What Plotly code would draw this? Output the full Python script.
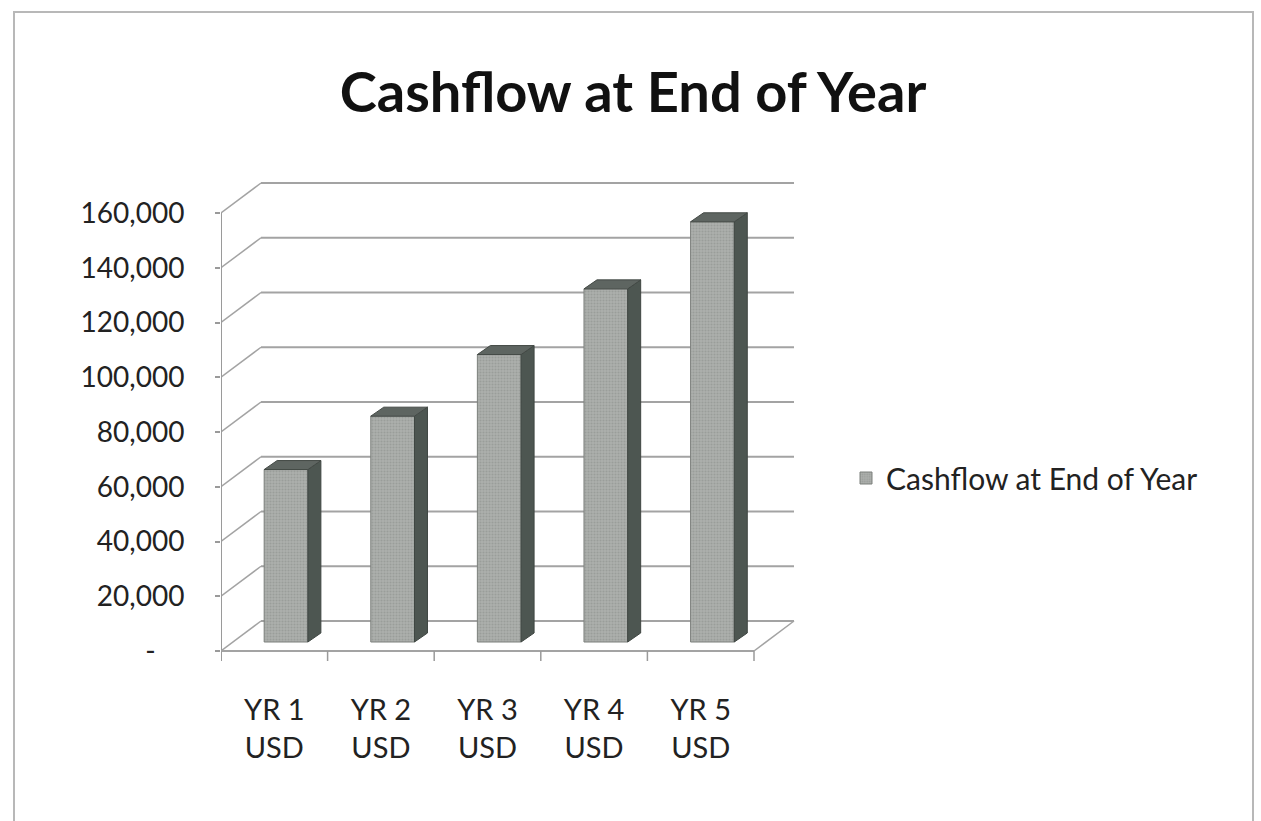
import plotly.graph_objects as go

# ---- data ----
categories = ["YR 1<br>USD", "YR 2<br>USD", "YR 3<br>USD", "YR 4<br>USD", "YR 5<br>USD"]
values = [63000, 82500, 105000, 129000, 153500]
tick_vals = [0, 20000, 40000, 60000, 80000, 100000, 120000, 140000, 160000]
tick_text = ["-\u00a0\u00a0\u00a0\u00a0", "20,000", "40,000", "60,000", "80,000", "100,000", "120,000", "140,000", "160,000"]
series_name = "Cashflow at End of Year"
title_text = "Cashflow at End of Year"

# ---- layout geometry (pixels) ----
W, H = 1261, 821
x0p, y0p = 221, 651          # front axis origin
slot_px = 106.6              # category slot width
ppk = (651 - 213) / 160.0    # pixels per 1,000
dom_left, dom_right = x0p, 801
dom_top, dom_bot = 170, 680

x_range = [0, (dom_right - dom_left) / slot_px]
y_range = [-(dom_bot - y0p) / ppk * 1000, (y0p - dom_top) / ppk * 1000]

DX = 40 / slot_px            # depth offset (x data units)
DY = 30 / ppk * 1000         # depth offset (y data units)
bar_base = 9 / ppk * 1000
bar_off = 0.61
bar_w = 0.41
ddx = 13 / slot_px
ddy = 9 / ppk * 1000
tick_down = 10 / ppk * 1000
n = len(categories)

grid_col = "#a3a3a3"
shapes = []
for v in tick_vals:
    shapes.append(dict(type="line", xref="x", yref="y", x0=DX, y0=v + DY, x1=n + DX, y1=v + DY,
                       line=dict(color=grid_col, width=2), layer="below"))
    shapes.append(dict(type="line", xref="x", yref="y", x0=0, y0=v, x1=DX, y1=v + DY,
                       line=dict(color=grid_col, width=1.5), layer="below"))
# front axis, floor
shapes.append(dict(type="line", xref="x", yref="y", x0=0, y0=-tick_down, x1=0, y1=tick_vals[-1],
                   line=dict(color="#9a9a9a", width=2), layer="below"))
shapes.append(dict(type="line", xref="x", yref="y", x0=0, y0=0, x1=n, y1=0,
                   line=dict(color=grid_col, width=2), layer="below"))
shapes.append(dict(type="line", xref="x", yref="y", x0=n, y0=0, x1=n + DX, y1=DY,
                   line=dict(color=grid_col, width=1.5), layer="below"))
for i in range(n + 1):
    shapes.append(dict(type="line", xref="x", yref="y", x0=i, y0=0, x1=i, y1=-tick_down,
                       line=dict(color="#9a9a9a", width=1.5), layer="below"))
# outer border
shapes.append(dict(type="rect", xref="paper", yref="paper", x0=14 / W, x1=1253 / W,
                   y0=-0.05, y1=(H - 12) / H, line=dict(color="#b8b8b8", width=2),
                   fillcolor="rgba(0,0,0,0)", layer="below"))

fig = go.Figure()

xc = [i + bar_off for i in range(n)]
fig.add_trace(go.Bar(
    x=xc, y=values, base=[bar_base] * n, width=bar_w, name=series_name,
    marker=dict(color="#a5a8a5", line=dict(color="#7d807d", width=1),
                pattern=dict(shape=".", fgcolor="#878a87", bgcolor="#adb0ad", size=3, solidity=0.4)),
    showlegend=True,
))

# side and top faces (computed from values)
for i, v in enumerate(values):
    xl = xc[i] - bar_w / 2
    xr = xc[i] + bar_w / 2
    top = bar_base + v
    fig.add_trace(go.Scatter(
        x=[xr, xr + ddx, xr + ddx, xr, xr],
        y=[bar_base, bar_base + ddy, top + ddy, top, bar_base],
        mode="lines", fill="toself", fillcolor="#4d5651",
        line=dict(color="#3f4642", width=1), showlegend=False, hoverinfo="skip"))
    fig.add_trace(go.Scatter(
        x=[xl, xl + ddx, xr + ddx, xr, xl],
        y=[top, top + ddy, top + ddy, top, top],
        mode="lines", fill="toself", fillcolor="#5e6561",
        line=dict(color="#444a46", width=1), showlegend=False, hoverinfo="skip"))

fig.update_layout(
    width=W, height=H,
    margin=dict(l=0, r=0, t=0, b=0),
    paper_bgcolor="white", plot_bgcolor="rgba(0,0,0,0)",
    font=dict(family="Lato, Open Sans, sans-serif", color="#222222"),
    title=dict(text="<b>" + title_text + "</b>", x=633 / W, xanchor="center",
               y=(H - 92) / H, yanchor="middle",
               font=dict(family="Lato, Open Sans, sans-serif", size=56, color="#111111")),
    xaxis=dict(domain=[dom_left / W, dom_right / W], range=x_range,
               showgrid=False, zeroline=False, showline=False,
               tickmode="array", tickvals=[i + 0.5 for i in range(n)], ticktext=categories,
               ticks="", tickfont=dict(size=29, color="#222222"), ticklabelstandoff=10),
    yaxis=dict(domain=[(H - dom_bot) / H, (H - dom_top) / H], range=y_range,
               showgrid=False, zeroline=False, showline=False,
               tickmode="array", tickvals=tick_vals, ticktext=tick_text,
               ticks="outside", ticklen=5, tickcolor="#9a9a9a", tickwidth=1.5,
               tickfont=dict(size=28, color="#222222"), ticklabelstandoff=25),
    legend=dict(x=846 / W, xanchor="left", y=(H - 478) / H, yanchor="middle",
                font=dict(size=30, color="#222222"), bgcolor="rgba(0,0,0,0)"),
    shapes=shapes,
    showlegend=True,
)

fig.write_html("out.html")
